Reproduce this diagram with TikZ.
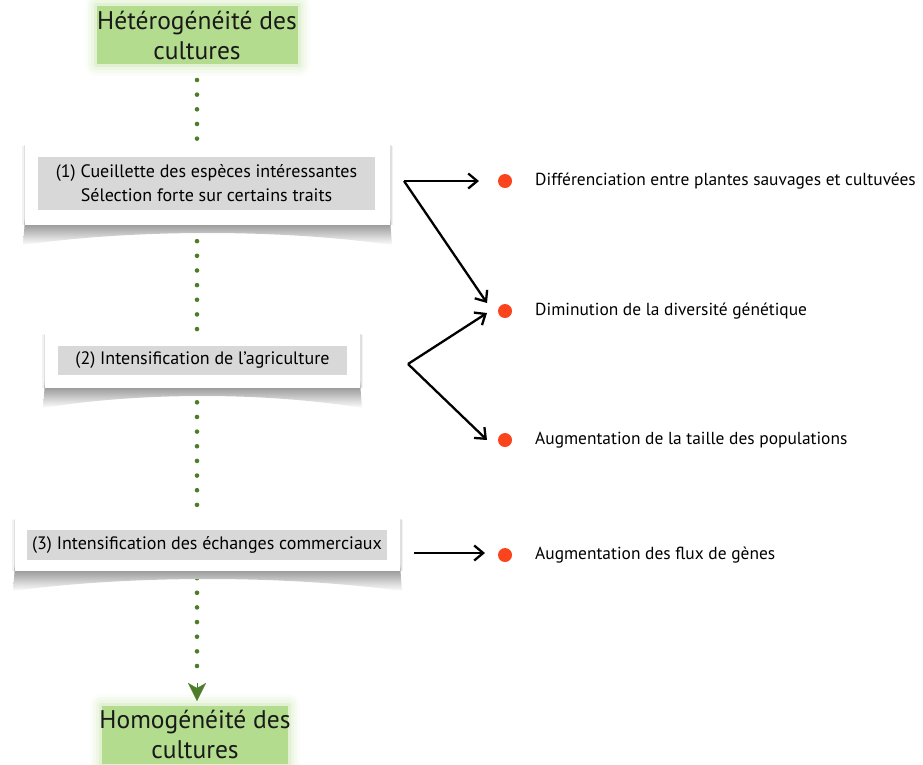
\documentclass[tikz,border=0pt]{standalone}
\usepackage{fontspec}
\setmainfont{PT Sans}
\usetikzlibrary{arrows.meta,calc}

\definecolor{leaf}{RGB}{78,125,42}
\definecolor{glow}{RGB}{180,220,142}
\definecolor{panel}{RGB}{216,216,216}
\definecolor{bullet}{RGB}{250,68,30}

\tikzset{
  stage/.style={fill=panel, inner sep=0pt, align=center,
    font=\fontsize{18}{24}\selectfont},
  heading/.style={align=center, font=\fontsize{25.5}{30}\selectfont, text=black!90},
  pointer/.style={line width=2.3pt, -{Straight Barb[length=9pt,width=15pt,line width=2.3pt]}},
  bulletdot/.style={circle, fill=bullet, minimum size=14pt, inner sep=0pt},
  effect/.style={anchor=west, inner sep=0pt, font=\fontsize{17.4}{20}\selectfont},
}

% soft green halo behind a title
\newcommand{\halo}[4]{%
  \foreach \k/\o in {12/0.06,9/0.08,6/0.12,3/0.2}{%
    \fill[glow, opacity=\o, rounded corners=\k pt] ($(#1,#2)+(-\k,-\k)$) rectangle ($(#3,#4)+(\k,\k)$);}
  \fill[glow] (#1,#2) rectangle (#3,#4);}

% white card with a curled shadow beneath
\newcommand{\card}[5]{%
  \shade[top color=black!50, bottom color=white]
    ($(#1,#4)+(0,-6)$) -- ($(#1,#4)+(-2,20)$)
    .. controls ($(#1,#4)!0.3!(#3,#4)+(0,4)$) and ($(#1,#4)!0.7!(#3,#4)+(0,4)$) .. ($(#3,#4)+(2,20)$)
    -- ($(#3,#4)+(0,-6)$) -- cycle;
  \foreach \s/\o in {3/0.05,1.5/0.08}{%
    \fill[black, opacity=\o] ($(#1,#2)+(-\s,\s)$) rectangle ($(#3,#4)+(\s,0)$);}
  \node[inner sep=0pt] (#5) at ($(#1,#2)!0.5!(#3,#4)$) {};
  \fill[white] (#1,#2) rectangle (#3,#4);}

\begin{document}
\begin{tikzpicture}[x=1pt,y=-1pt]
\useasboundingbox (0,0) rectangle (923,764);

% titles
\halo{97}{6}{298}{64}
\node[heading] (top) at (197,35) {Hétérogénéité des\\cultures};
\halo{102}{706}{288}{764}
\node[heading] (bottom) at (195,734) {Homogénéité des\\cultures};

% dotted time line with arrow head
\coordinate (lineA) at (197,80);
\coordinate (lineB) at (197,678);
\draw[leaf, line width=4.6pt, line cap=round, dash pattern=on 0pt off 14.65pt] (lineA) -- (lineB);
\coordinate (tipT) at (197,683);
\coordinate (tipB) at (197,701);
\draw[leaf, -{Stealth[length=18pt,width=18pt,inset=5pt]}, line width=0.1pt] (tipT) -- (tipB);

% stages
\card{25}{143}{390}{225}{card1}
\node[stage, minimum width=337pt, minimum height=53pt] (stage1) at (206.5,183.5)
  {(1) Cueillette des espèces intéressantes\\Sélection forte sur certains traits};

\card{45}{332}{360}{388}{card2}
\node[stage, minimum width=289pt, minimum height=29pt] (stage2) at (202.5,360.5)
  {(2) Intensification de l’agriculture};

\card{15}{517}{400}{571}{card3}
\node[stage, minimum width=360pt, minimum height=30pt] (stage3) at (207,545)
  {(3) Intensification des échanges commerciaux};

% consequences
\node[bulletdot] (d1) at (505,181) {};
\node[effect] (e1) at (535,181) {Différenciation entre plantes sauvages et cultuvées};
\node[bulletdot] (d2) at (505,311) {};
\node[effect] (e2) at (535,311) {Diminution de la diversité génétique};
\node[bulletdot] (d3) at (505,440) {};
\node[effect] (e3) at (535,440) {Augmentation de la taille des populations};
\node[bulletdot] (d4) at (505,555) {};
\node[effect] (e4) at (535,555) {Augmentation des flux de gènes};

% arrows
\coordinate (f1) at (404,181);
\coordinate (f2) at (408,364);
\coordinate (f3) at (414,553);
\draw[pointer] (f1) -- ($(d1)+(-26,0)$);
\draw[pointer] (f1) -- ($(d2)+(-18,-8)$);
\draw[pointer] (f2) -- ($(d2)+(-18,2)$);
\draw[pointer] (f2) -- ($(d3)+(-18,0)$);
\draw[pointer] (f3) -- ($(d4)+(-20,-2)$);
\end{tikzpicture}
\end{document}
